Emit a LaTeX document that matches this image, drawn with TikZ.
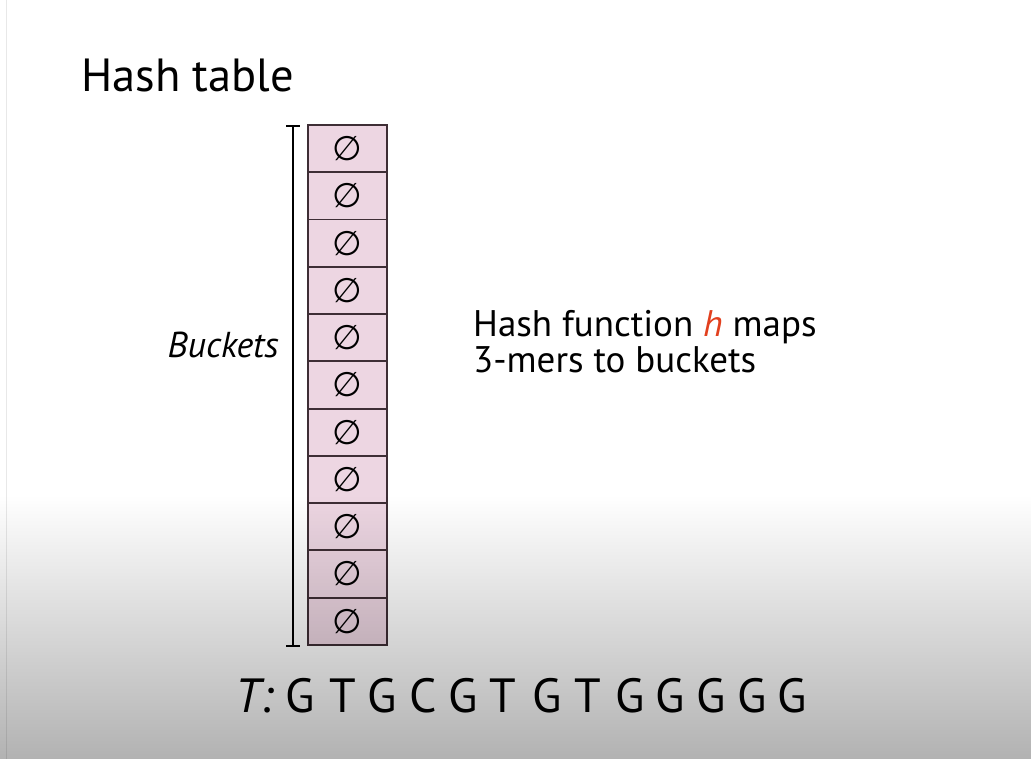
\documentclass[tikz,border=0pt]{standalone}
\usepackage{fontspec}
\setmainfont{PT Sans}
\newfontfamily\symfont{DejaVu Sans}
\begin{document}
\begin{tikzpicture}[x=1pt,y=-1pt,
  bucket/.style={draw=bucketline, line width=1.9pt, fill=bucketfill,
    minimum width=79pt, minimum height=47.27pt, inner sep=0pt,
    font=\symfont\fontsize{34}{34}\selectfont},
  label/.style={inner sep=0pt, text=black},
  base/.style={label, font=\fontsize{48}{48}\selectfont, anchor=base}]
\definecolor{bucketfill}{HTML}{EDD6E2}
\definecolor{bucketline}{HTML}{3E2E35}
\definecolor{hred}{HTML}{E2401E}
% canvas
\useasboundingbox (0,0) rectangle (1031,759);
\fill[white] (0,0) rectangle (1031,759);
\draw[gray!18, line width=1pt] (6.5,0) -- (6.5,759);

% title
\node[label, anchor=base west, font=\fontsize{46.5}{46.5}\selectfont] (title) at (81,92) {Hash table};

% table of eleven empty buckets
\foreach \i in {1,...,11}
  \node[bucket] (b\i) at (347.5,{125+47.27*(\i-0.5)}) {∅};

% bracket spanning the buckets
\coordinate (bt) at ([xshift=-14pt,yshift=-2pt]b1.north west);
\coordinate (bb) at ([xshift=-14pt]b11.south west);
\draw[line width=2.6pt] (bt) -- (bb);
\draw[line width=2.2pt] ([xshift=-7pt]bt) -- ([xshift=7pt]bt);
\draw[line width=2.2pt] ([xshift=-7pt]bb) -- ([xshift=7pt]bb);
\node[label, anchor=base east, font=\itshape\fontsize{36}{36}\selectfont] (buckets) at (279,358) {Buckets};

% description of the hash function
\node[label, anchor=base west, font=\fontsize{37}{37}\selectfont] (hf1) at (473,337)
  {Hash function {\color{hred}\itshape h} maps};
\node[label, anchor=base west, font=\fontsize{37}{37}\selectfont] (hf2) at (473,372)
  {3-mers to buckets};

% the text T
\node[label, anchor=base west, font=\itshape\fontsize{48}{48}\selectfont] (tlab) at (235,712) {T:};
\foreach \c/\x [count=\k] in {G/300,T/343,G/382,C/423,G/463,T/503,G/547,T/588,G/630,G/670,G/711,G/752,G/792}
  \node[base] (t\k) at (\x,712) {\c};

% soft darkening towards the bottom edge
\begin{scope}[blend mode=multiply]
  \shade[top color=white, bottom color={rgb,255:red,178;green,178;blue,178}] (0,495) rectangle (1031,759);
\end{scope}
\end{tikzpicture}
\end{document}
